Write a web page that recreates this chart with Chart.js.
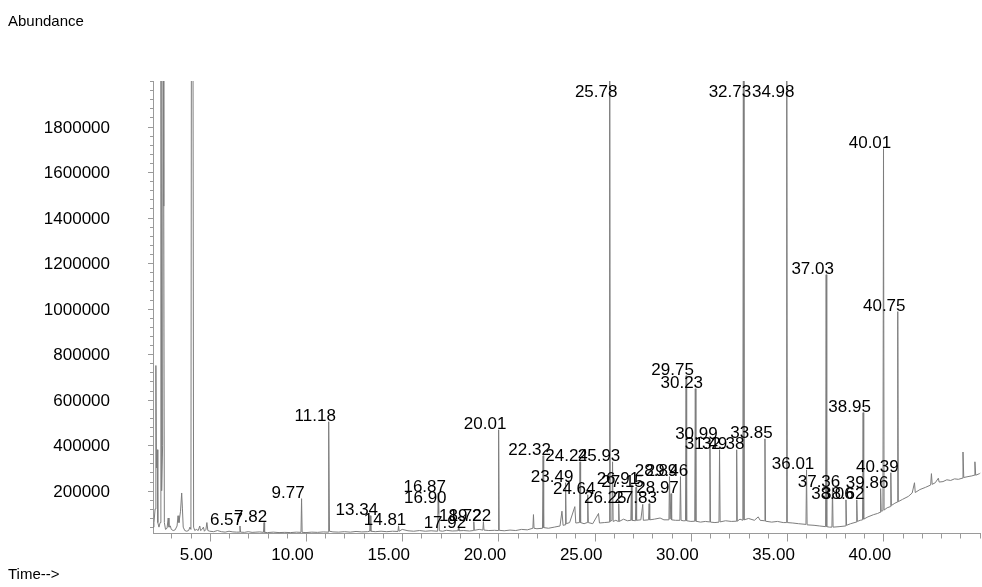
<!DOCTYPE html>
<html>
<head>
<meta charset="utf-8">
<title>Chromatogram</title>
<script src="https://cdn.jsdelivr.net/npm/chart.js@4.4.1/dist/chart.umd.min.js"></script>
<style>
  html, body { margin: 0; padding: 0; background: #fff; }
  canvas { display: block; }
</style>
</head>
<body>
<canvas id="tic" width="982" height="587"></canvas>
<script>
// retention time (min) and abundance, vertex by vertex
const retentionTime = [
  2.06, 2.10, 2.16, 2.20, 2.23, 2.27, 2.30, 2.36, 2.42, 2.46,
  2.50, 2.55, 2.58, 2.61, 2.64, 2.70, 2.78, 2.84, 2.88, 2.95,
  3.00, 3.10, 3.20, 3.30, 3.35, 3.40, 3.48, 3.54, 3.58, 3.62,
  3.70, 3.80, 3.90, 3.97, 4.02, 4.06, 4.11, 4.16, 4.22, 4.30,
  4.40, 4.48, 4.52, 4.60, 4.67, 4.72, 4.80, 4.85, 4.90,
  5.00, 5.20, 5.40, 5.60, 5.80, 6.00, 6.20, 6.40, 6.54, 6.57,
  6.60, 6.80, 7.00, 7.20, 7.40, 7.60, 7.79, 7.82, 7.85, 8.00,
  8.30, 8.60, 8.90, 9.20, 9.50, 9.74, 9.77, 9.80, 10.00, 10.30,
  10.60, 10.90, 11.15, 11.18, 11.22, 11.40, 11.70, 12.00, 12.30, 12.60,
  12.90, 13.20, 13.31, 13.34, 13.37, 13.60, 13.90, 14.20, 14.50, 14.78,
  14.81, 14.84, 15.00, 15.30, 15.60, 15.90, 16.20, 16.50, 16.84, 16.87,
  16.885, 16.90, 16.93, 17.10, 17.30, 17.60, 17.89, 17.92, 17.95, 18.20,
  18.50, 18.69, 18.72, 18.75, 19.00, 19.19, 19.22, 19.25, 19.50, 19.80,
  19.98, 20.01, 20.04,
  20.30, 20.60, 20.90, 21.20, 21.50, 21.79, 21.82, 21.85, 22.00, 22.29,
  22.32, 22.35, 22.60, 22.90, 23.20, 23.30, 23.36, 23.46, 23.49, 23.52,
  23.70, 23.97, 24.02, 24.21, 24.24, 24.27, 24.45, 24.61, 24.64, 24.67,
  24.90, 25.20, 25.25, 25.50, 25.75, 25.78, 25.81, 25.90, 25.93, 25.96,
  26.10, 26.22, 26.25, 26.28, 26.50, 26.70, 26.88, 26.91, 26.94, 27.12,
  27.15, 27.18, 27.40, 27.50, 27.53, 27.80, 27.83, 27.86, 28.10, 28.40,
  28.60, 28.86, 28.89, 28.92, 28.94, 28.97, 29.00, 29.20, 29.43, 29.46,
  29.49, 29.60, 29.72, 29.75, 29.78, 30.00,
  30.20, 30.23, 30.26, 30.50, 30.75, 30.96, 30.99, 31.02, 31.25, 31.46,
  31.49, 31.52, 31.80, 32.10, 32.35, 32.38, 32.41, 32.55, 32.70, 32.73,
  32.76, 33.00, 33.30, 33.50, 33.60, 33.82, 33.85, 33.88, 34.20, 34.50,
  34.80, 34.95, 34.98, 35.01, 35.30, 35.60, 35.98, 36.01, 36.04, 36.40,
  36.70, 37.00, 37.03, 37.06, 37.20, 37.33, 37.36, 37.39, 37.70, 38.03,
  38.06, 38.09, 38.30, 38.59, 38.62, 38.65, 38.80, 38.92, 38.95, 38.98,
  39.20, 39.50, 39.70, 39.83, 39.86, 39.89, 39.98, 40.01, 40.04, 40.20,
  40.36, 40.39, 40.42, 40.60, 40.72, 40.75, 40.78, 41.00, 41.30, 41.50,
  41.62, 41.66, 41.90, 42.20, 42.46, 42.50, 42.54, 42.70, 42.86, 42.90,
  43.10, 43.30, 43.50, 43.70, 43.90, 44.10, 44.14, 44.18, 44.40, 44.60,
  44.72, 44.76, 44.80, 45.00, 45.05
];

const abundance = [
  40000, 60000, 120000, 750000, 300000, 380000, 60000, 40000, 60000, 3600000,
  200000, 400000, 3400000, 1450000, 60000, 30000, 35000, 80000, 40000, 45000,
  30000, 25000, 28000, 45000, 90000, 60000, 110000, 190000, 120000, 40000,
  25000, 22000, 25000, 40000, 30000, 3500000, 3500000, 40000, 25000, 30000,
  25000, 45000, 25000, 30000, 40000, 22000, 30000, 60000, 25000,
  22000, 20000, 25000, 20000, 18000, 22000, 19000, 18000, 18000, 45000,
  18000, 17000, 20000, 17000, 18000, 19000, 17000, 60000, 17000, 16000,
  18000, 16000, 17000, 16000, 18000, 17000, 165000, 17000, 16000, 18000,
  17000, 19000, 18000, 503000, 22000, 19000, 18000, 20000, 18000, 21000,
  19000, 20000, 22000, 90000, 22000, 20000, 22000, 20000, 22000, 21000,
  46000, 22000, 30000, 24000, 22000, 25000, 22000, 24000, 22000, 190000,
  100000, 145000, 24000, 22000, 26000, 23000, 24000, 35000, 24000, 25000,
  23000, 25000, 64000, 26000, 30000, 27000, 64000, 27000, 25000, 26000,
  25000, 468000, 26000,
  24000, 27000, 25000, 30000, 28000, 35000, 95000, 35000, 33000, 35000,
  354000, 38000, 35000, 40000, 45000, 110000, 48000, 50000, 235000, 55000,
  60000, 130000, 58000, 60000, 327000, 60000, 55000, 60000, 182000, 60000,
  55000, 100000, 58000, 60000, 62000, 2600000, 65000, 70000, 327000, 65000,
  70000, 65000, 143000, 65000, 75000, 68000, 70000, 226000, 70000, 68000,
  215000, 70000, 72000, 140000, 70000, 72000, 143000, 72000, 75000, 80000,
  72000, 72000, 262000, 75000, 75000, 187000, 72000, 70000, 70000, 262000,
  70000, 68000, 68000, 705000, 68000, 65000,
  66000, 648000, 66000, 62000, 65000, 63000, 424000, 62000, 60000, 62000,
  380000, 63000, 68000, 65000, 66000, 380000, 66000, 75000, 70000, 2700000,
  72000, 78000, 70000, 85000, 70000, 68000, 428000, 66000, 62000, 65000,
  60000, 60000, 2700000, 60000, 58000, 55000, 52000, 292000, 50000, 48000,
  45000, 42000, 1149000, 42000, 40000, 40000, 213000, 40000, 42000, 45000,
  160000, 48000, 55000, 62000, 160000, 65000, 70000, 72000, 543000, 75000,
  85000, 95000, 100000, 105000, 209000, 110000, 112000, 1703000, 115000, 125000,
  130000, 279000, 135000, 145000, 150000, 987000, 152000, 162000, 175000, 190000,
  235000, 192000, 205000, 215000, 225000, 275000, 228000, 235000, 255000, 238000,
  240000, 248000, 245000, 252000, 250000, 255000, 370000, 258000, 262000, 265000,
  268000, 327000, 268000, 275000, 278000
];

// integrated peaks labelled with their retention time
const peakLabels = [
  "6.57", "7.82", "9.77", "11.18", "13.34", "14.81", "16.87", "16.90", "17.92",
  "18.72", "19.22", "20.01", "22.32", "23.49", "24.24", "24.64", "25.78", "25.93",
  "26.25", "26.91", "27.15", "27.83", "28.89", "28.97", "29.46", "29.75", "30.23",
  "30.99", "31.49", "32.38", "32.73", "33.85", "34.98", "36.01", "37.03", "37.36",
  "38.06", "38.62", "38.95", "39.86", "40.01", "40.39", "40.75"
];

const xTickValues = [5, 10, 15, 20, 25, 30, 35, 40];
const yTickValues = [200000, 400000, 600000, 800000, 1000000, 1200000, 1400000, 1600000, 1800000];

const fontFamily = "'Liberation Sans', Arial, Helvetica, sans-serif";
const tickFont = { family: fontFamily, size: 17 };

const points = retentionTime.map((t, i) => ({ x: t, y: abundance[i] }));

const decorations = {
  id: "decorations",
  afterDraw(chart) {
    const { ctx, chartArea } = chart;
    const x = chart.scales.x;
    const y = chart.scales.y;
    ctx.save();

    // tick marks
    ctx.strokeStyle = "#9a9a9a";
    ctx.lineWidth = 1;
    ctx.beginPath();
    for (let t = 3; t <= 45; t++) {
      const px = Math.round(x.getPixelForValue(t)) + 0.5;
      const len = xTickValues.includes(t) ? 8 : 5;
      ctx.moveTo(px, chartArea.bottom);
      ctx.lineTo(px, chartArea.bottom + len);
    }
    for (let v = 40000; v <= 2000000; v += 40000) {
      const py = Math.round(y.getPixelForValue(v)) + 0.5;
      const len = yTickValues.includes(v) ? 5 : 3;
      ctx.moveTo(chartArea.left, py);
      ctx.lineTo(chartArea.left - len, py);
    }
    ctx.stroke();

    // peak labels
    ctx.fillStyle = "#000";
    ctx.font = "17px " + fontFamily;
    ctx.textAlign = "center";
    ctx.textBaseline = "alphabetic";
    peakLabels.forEach((label) => {
      const i = retentionTime.indexOf(parseFloat(label));
      if (i < 0) return;
      const px = x.getPixelForValue(retentionTime[i]) - 13.5;
      const py = Math.max(y.getPixelForValue(abundance[i]), chartArea.top + 16.5);
      ctx.fillText(label, px, py - 0.5);
    });

    // axis captions
    ctx.font = "15px " + fontFamily;
    ctx.textAlign = "left";
    ctx.textBaseline = "middle";
    ctx.fillText("Abundance", 8, 22);
    ctx.fillText("Time-->", 8, 575);
    ctx.restore();
  }
};

const ctx = document.getElementById("tic").getContext("2d");

const chart = new Chart(ctx, {
  type: "line",
  data: {
    datasets: [
      {
        data: points,
        borderColor: "#7d7d7d",
        borderWidth: 1,
        pointRadius: 0,
        tension: 0,
        fill: false,
      },
    ],
  },
  options: {
    responsive: false,
    animation: false,
    layout: { padding: { top: 81, right: 1.5, left: 0, bottom: 0 } },
    plugins: {
      legend: { display: false },
      tooltip: { enabled: false },
    },
    scales: {
      x: {
        type: "linear",
        min: 2.05,
        max: 45.05,
        grid: { display: false, drawTicks: false },
        border: { color: "#9a9a9a", width: 1 },
        afterBuildTicks: (axis) => {
          axis.ticks = xTickValues.map((v) => ({ value: v }));
        },
        afterFit: (axis) => {
          axis.height = 53.5;
        },
        ticks: {
          callback: (v) => Number(v).toFixed(2),
          labelOffset: -13.5,
          padding: 12,
          maxRotation: 0,
          autoSkip: false,
          color: "#000",
          font: tickFont,
        },
      },
      y: {
        min: 12000,
        max: 2000000,
        grid: { display: false, drawTicks: false },
        border: { color: "#9a9a9a", width: 1 },
        afterBuildTicks: (axis) => {
          axis.ticks = yTickValues.map((v) => ({ value: v }));
        },
        afterFit: (axis) => {
          axis.width = 153;
        },
        ticks: {
          callback: (v) => String(v),
          padding: 43,
          labelOffset: 1.5,
          autoSkip: false,
          color: "#000",
          font: tickFont,
        },
      },
    },
  },
  plugins: [decorations],
});
</script>
</body>
</html>
